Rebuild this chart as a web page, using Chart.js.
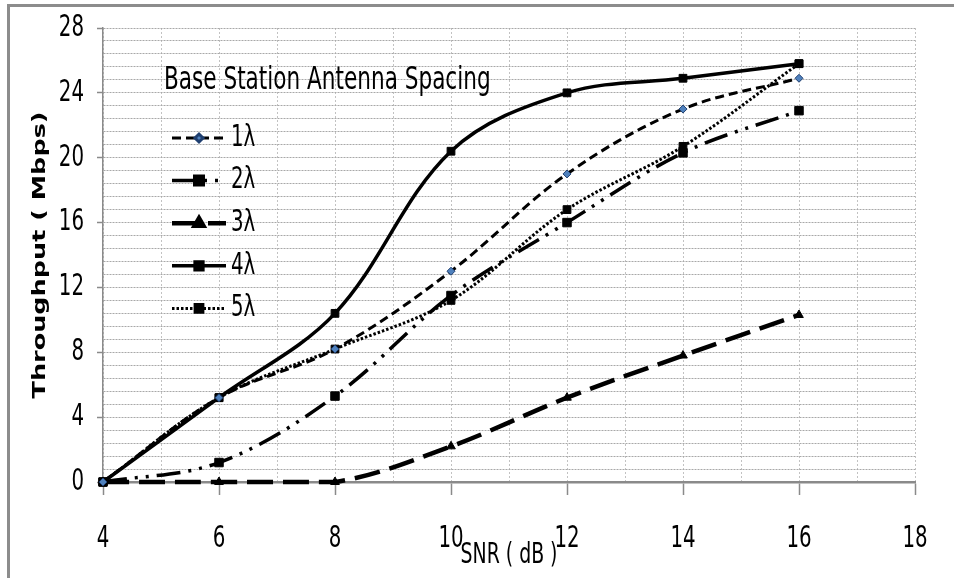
<!DOCTYPE html>
<html>
<head>
<meta charset="utf-8">
<title>Throughput vs SNR</title>
<script src="https://cdn.jsdelivr.net/npm/chart.js@4.4.1/dist/chart.umd.min.js"></script>
<style>
  html, body { margin: 0; padding: 0; background: #ffffff; }
  canvas { display: block; }
</style>
</head>
<body>
<canvas id="chart" width="954" height="578"></canvas>
<script>
// SNR sample points (dB)
const snrDb = [4, 6, 8, 10, 12, 14, 16];

// Throughput (Mbps) for each base station antenna spacing
const spacing1 = [0, 5.2, 8.2, 13.0, 19.0, 23.0, 24.9];
const spacing2 = [0, 1.2, 5.3, 11.5, 16.0, 20.3, 22.9];
const spacing3 = [0, 0, 0, 2.2, 5.2, 7.8, 10.3];
const spacing4 = [0, 5.2, 10.4, 20.4, 24.0, 24.9, 25.8];
const spacing5 = [0, 5.2, 8.2, 11.2, 16.8, 20.7, 25.8];

const seriesNames = ['1λ', '2λ', '3λ', '4λ', '5λ'];

// Axis tick labels
const xTickLabels = [4, 6, 8, 10, 12, 14, 16, 18];
const yTickLabels = [0, 4, 8, 12, 16, 20, 24, 28];

const legendTitle = 'Base Station Antenna Spacing';
const xTitle = 'SNR ( dB )';
const yTitle = 'Throughput ( Mbps)';

// Grid lines: x every half major step, y every fifth of a major step
const xGridValues = [];
const xStep = (xTickLabels[1] - xTickLabels[0]) / 2;
for (let v = xTickLabels[0]; v <= xTickLabels[xTickLabels.length - 1] + 1e-9; v += xStep) {
  xGridValues.push(+v.toFixed(4));
}
const yGridValues = [];
const yStep = (yTickLabels[1] - yTickLabels[0]) / 5;
for (let v = yTickLabels[0]; v <= yTickLabels[yTickLabels.length - 1] + 1e-9; v += yStep) {
  yGridValues.push(+v.toFixed(4));
}
const isLabelled = (v, labels) => labels.some(l => Math.abs(l - v) < 1e-6);

const toPoints = ys => snrDb.map((x, i) => ({ x: x, y: ys[i] }));

const LABEL_FONT = '"Liberation Sans Narrow", "DejaVu Sans Condensed", "Arial Narrow", sans-serif';
const TEXT_STRETCH = 1.38;

function stretchedText(ctx, text, x, y, font, align, sx, sy) {
  ctx.save();
  ctx.font = font;
  ctx.fillStyle = '#000000';
  ctx.textAlign = align;
  ctx.textBaseline = 'middle';
  ctx.translate(x, y);
  ctx.scale(sx, sy);
  ctx.fillText(text, 0, 0);
  ctx.restore();
}

// Frame, axis labels, titles and in-plot legend
const decorations = {
  id: 'decorations',
  afterDraw(chart) {
    const ctx = chart.ctx;
    const xs = chart.scales.x;
    const ys = chart.scales.y;
    const area = chart.chartArea;

    // outer frame (top and left edges)
    ctx.save();
    ctx.strokeStyle = '#8c8c8c';
    ctx.lineWidth = 3;
    ctx.beginPath();
    ctx.moveTo(954, 5.5);
    ctx.lineTo(8.5, 5.5);
    ctx.lineTo(8.5, 578);
    ctx.stroke();
    ctx.restore();

    // y tick labels
    yTickLabels.forEach(v => {
      stretchedText(ctx, String(v), area.left - 19, ys.getPixelForValue(v),
        '22px ' + LABEL_FONT, 'right', 1, TEXT_STRETCH);
    });
    // x tick labels
    xTickLabels.forEach(v => {
      stretchedText(ctx, String(v), xs.getPixelForValue(v), area.bottom + 57,
        '22px ' + LABEL_FONT, 'center', 1, TEXT_STRETCH);
    });

    // axis titles
    stretchedText(ctx, xTitle, (area.left + area.right) / 2, area.bottom + 73,
      '21px ' + LABEL_FONT, 'center', 1, TEXT_STRETCH);

    ctx.save();
    ctx.font = 'bold 17px "DejaVu Sans", Verdana, sans-serif';
    ctx.fillStyle = '#000000';
    ctx.textAlign = 'center';
    ctx.textBaseline = 'middle';
    ctx.translate(41, (area.top + area.bottom) / 2);
    ctx.rotate(-Math.PI / 2);
    ctx.scale(1.5, 1);
    ctx.fillText(yTitle, 0, 0);
    ctx.restore();

    // legend
    const lx = area.left + 69;
    stretchedText(ctx, legendTitle, area.left + 61, area.top + 53,
      '24px ' + LABEL_FONT, 'left', 1, 1.34);
    chart.data.datasets.forEach((ds, i) => {
      const y = area.top + 110 + i * 42.6;
      ctx.save();
      ctx.strokeStyle = ds.borderColor;
      ctx.lineWidth = ds.borderWidth;
      ctx.setLineDash(ds.borderDash || []);
      ctx.beginPath();
      ctx.moveTo(lx, y);
      ctx.lineTo(lx + 54, y);
      ctx.stroke();
      ctx.setLineDash([]);
      ctx.fillStyle = ds.pointBackgroundColor;
      ctx.strokeStyle = ds.pointBorderColor;
      Chart.helpers.drawPoint(ctx, {
        pointStyle: ds.pointStyle,
        radius: ds.pointRadius,
        borderWidth: ds.pointBorderWidth,
        rotation: 0
      }, lx + 27, y);
      ctx.restore();
      stretchedText(ctx, ds.label, lx + 59, y, '22px ' + LABEL_FONT, 'left', 1, TEXT_STRETCH);
    });
  }
};

new Chart(document.getElementById('chart'), {
  type: 'line',
  data: {
    datasets: [
      {
        label: seriesNames[0], data: toPoints(spacing1),
        borderColor: '#000000', borderWidth: 3, borderDash: [9, 5],
        pointStyle: 'rectRot', pointRadius: 4, pointBorderWidth: 1,
        pointBackgroundColor: '#4f81bd', pointBorderColor: '#1f3f70'
      },
      {
        label: seriesNames[1], data: toPoints(spacing2),
        borderColor: '#000000', borderWidth: 3.5, borderDash: [24, 8, 3, 8, 3, 8],
        pointStyle: 'rect', pointRadius: 6, pointBorderWidth: 1,
        pointBackgroundColor: '#000000', pointBorderColor: '#000000'
      },
      {
        label: seriesNames[2], data: toPoints(spacing3),
        borderColor: '#000000', borderWidth: 4.5, borderDash: [26, 10],
        pointStyle: 'triangle', pointRadius: 5, pointBorderWidth: 1,
        pointBackgroundColor: '#000000', pointBorderColor: '#000000'
      },
      {
        label: seriesNames[3], data: toPoints(spacing4),
        borderColor: '#000000', borderWidth: 3.5, borderDash: [],
        pointStyle: 'rect', pointRadius: 5.5, pointBorderWidth: 1,
        pointBackgroundColor: '#000000', pointBorderColor: '#000000'
      },
      {
        label: seriesNames[4], data: toPoints(spacing5),
        borderColor: '#000000', borderWidth: 3, borderDash: [2.5, 2],
        pointStyle: 'rect', pointRadius: 5.5, pointBorderWidth: 1,
        pointBackgroundColor: '#000000', pointBorderColor: '#000000'
      }
    ]
  },
  options: {
    responsive: false,
    devicePixelRatio: 1,
    animation: false,
    events: [],
    clip: false,
    elements: {
      line: { tension: 0.35, fill: false, capBezierPoints: true },
      point: { hoverRadius: 0 }
    },
    layout: { padding: { top: 28, right: 39, left: 0, bottom: 0 } },
    plugins: {
      legend: { display: false },
      tooltip: { enabled: false },
      title: { display: false }
    },
    scales: {
      x: {
        type: 'linear',
        min: xTickLabels[0],
        max: xTickLabels[xTickLabels.length - 1],
        afterBuildTicks: s => { s.ticks = xGridValues.map(v => ({ value: v })); },
        afterFit: s => { s.height = 96; },
        ticks: { display: false },
        grid: {
          color: '#c2c2c2', lineWidth: 1,
          tickLength: 13, tickWidth: 1.5,
          tickColor: c => (c.tick && isLabelled(c.tick.value, xTickLabels)) ? '#8a8a8a' : 'rgba(0,0,0,0)'
        },
        border: { color: '#8a8a8a', width: 2.5, dash: [2, 2] }
      },
      y: {
        type: 'linear',
        min: yTickLabels[0],
        max: yTickLabels[yTickLabels.length - 1],
        afterBuildTicks: s => { s.ticks = yGridValues.map(v => ({ value: v })); },
        afterFit: s => { s.width = 103; },
        ticks: { display: false },
        grid: {
          color: '#a8a8a8', lineWidth: 1,
          tickLength: 6, tickWidth: 1.5,
          tickColor: c => (c.tick && isLabelled(c.tick.value, yTickLabels)) ? '#8a8a8a' : 'rgba(0,0,0,0)'
        },
        border: { color: '#8a8a8a', width: 1.5, dash: [2, 1] }
      }
    }
  },
  plugins: [decorations]
});
</script>
</body>
</html>
